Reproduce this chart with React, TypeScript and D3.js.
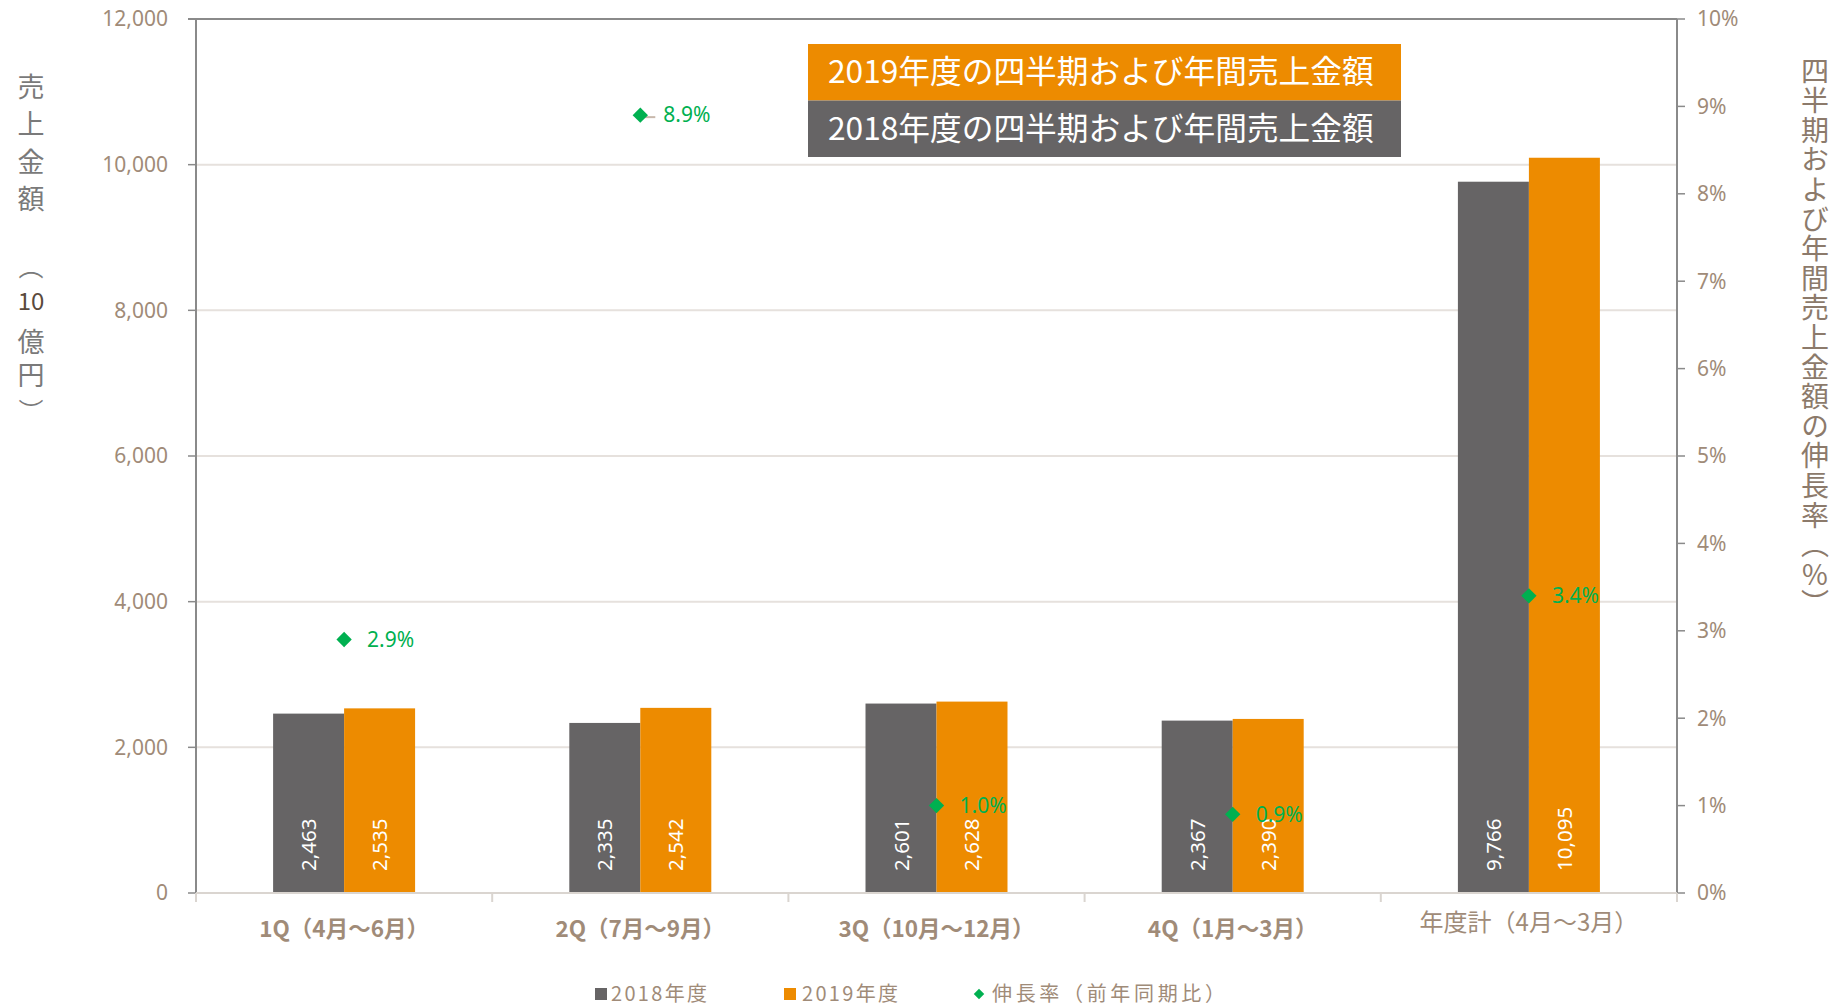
import React from 'react';
import * as d3 from 'd3';

const categories = ['1Q（4月～6月）', '2Q（7月～9月）', '3Q（10月～12月）', '4Q（1月～3月）', '年度計（4月～3月）'];
const seriesNames = ['2018年度', '2019年度'];
const sales2018 = [2463, 2335, 2601, 2367, 9766];
const sales2019 = [2535, 2542, 2628, 2390, 10095];
const growth = [2.9, 8.9, 1.0, 0.9, 3.4];
const leftTicks = [0, 2000, 4000, 6000, 8000, 10000, 12000];
const rightTicks = [0, 1, 2, 3, 4, 5, 6, 7, 8, 9, 10];
const leftTitle = ['売上金額', '︵', '10', '億円', '︶'];
const rightTitle = '四半期および年間売上金額の伸長率（%）';
const legendBoxes = ['2019年度の四半期および年間売上金額', '2018年度の四半期および年間売上金額'];
const legendItems = ['2018年度', '2019年度', '伸長率（前年同期比）'];

const W = 1848, H = 1008;
const X0 = 196, X1 = 1677, Y0 = 893, Y1 = 19;
const C_DARK = '#666465';
const C_ORANGE = '#ED8B00';
const C_GREEN = '#00B050';
const C_TICK = '#A08B78';
const FONT = '"Noto Sans", "Noto Sans CJK JP", sans-serif';
const CJK = '"Noto Sans CJK JP", sans-serif';

export default function App() {
  const x = d3.scaleBand<string>().domain(categories).range([X0, X1]).paddingInner(0).paddingOuter(0);
  const xs = d3.scaleBand<string>().domain(seriesNames).range([0, x.bandwidth()]).paddingInner(0).paddingOuter(1.086);
  const yL = d3.scaleLinear().domain([0, 12000]).range([Y0, Y1]);
  const yR = d3.scaleLinear().domain([0, 10]).range([Y0, Y1]);
  const fmt = d3.format(',');
  const series = [sales2018, sales2019];
  const colors = [C_DARK, C_ORANGE];
  const vert: React.CSSProperties = { writingMode: 'vertical-rl', textOrientation: 'upright' } as any;

  return (
    <svg width={W} height={H} style={{ position: 'absolute', left: 0, top: 0, background: '#fff' }}>
      {/* gridlines */}
      {leftTicks.filter(t => t > 0 && t < 12000).map(t => (
        <line key={t} x1={X0} x2={X1} y1={yL(t)} y2={yL(t)} stroke="#E6E1DD" strokeWidth={2} />
      ))}
      {/* top border */}
      <line x1={X0 - 8} x2={X1} y1={Y1} y2={Y1} stroke="#8A8A8A" strokeWidth={2} />
      {/* left axis */}
      <line x1={X0} x2={X0} y1={Y1} y2={Y0} stroke="#8A8A8A" strokeWidth={2} />
      {leftTicks.map(t => (
        <g key={t}>
          <line x1={X0 - 8} x2={X0} y1={yL(t)} y2={yL(t)} stroke="#8A8A8A" strokeWidth={1.5} />
          <text x={X0 - 28} y={yL(t)} dy="0.35em" textAnchor="end" fontSize={21} fill={C_TICK} fontFamily={FONT}>{fmt(t)}</text>
        </g>
      ))}
      {/* right axis */}
      <line x1={X1} x2={X1} y1={Y1} y2={Y0} stroke="#8A8A8A" strokeWidth={2} />
      {rightTicks.map(t => (
        <g key={t}>
          <line x1={X1} x2={X1 + 8} y1={yR(t)} y2={yR(t)} stroke="#8A8A8A" strokeWidth={1.5} />
          <text x={X1 + 20} y={yR(t)} dy="0.35em" textAnchor="start" fontSize={21} fill={C_TICK} fontFamily={FONT}>{t}%</text>
        </g>
      ))}
      {/* bars */}
      {categories.map((c, i) => (
        <g key={c} transform={`translate(${x(c)},0)`}>
          {series.map((s, j) => {
            const bx = xs(seriesNames[j])!;
            const bw = xs.bandwidth();
            return (
              <g key={j}>
                <rect x={bx} y={yL(s[i])} width={bw} height={Y0 - yL(s[i])} fill={colors[j]} />
                <text transform={`translate(${bx + bw / 2 + 7.5},${Y0 - 22}) rotate(-90)`} fontSize={20.5} fill="#fff" fontFamily={FONT}>{fmt(s[i])}</text>
              </g>
            );
          })}
        </g>
      ))}
      {/* bottom axis */}
      <line x1={X0} x2={X1} y1={Y0} y2={Y0} stroke="#DAD5D0" strokeWidth={2} />
      {[...categories.map(c => x(c)!), X1].map((v, i) => (
        <line key={i} x1={v} x2={v} y1={Y0} y2={Y0 + 9} stroke="#DAD5D0" strokeWidth={2} />
      ))}
      {categories.map((c, i) => (
        <text key={c} x={x(c)! + x.bandwidth() / 2} y={i === 4 ? 923 : 929} dy="0.35em" textAnchor="middle"
          fontSize={i === 4 ? 24 : 22.5} fontWeight={i === 4 ? 400 : 700} fill={C_TICK} fontFamily={CJK}>{c}</text>
      ))}
      {/* growth markers */}
      {categories.map((c, i) => {
        const cx = x(c)! + x.bandwidth() / 2;
        const cy = yR(growth[i]);
        return (
          <g key={c}>
            {i === 1 && <line x1={cx + 4} x2={cx + 15} y1={cy + 2} y2={cy + 2} stroke="#C8B8AC" strokeWidth={2} />}
            <path d={d3.symbol(d3.symbolDiamond2, 150)()!} transform={`translate(${cx},${cy})`} fill={C_GREEN} />
            <text x={cx + 23} y={cy} dy="0.35em" fontSize={21} fill={C_GREEN} fontFamily={FONT}>{growth[i].toFixed(1)}%</text>
          </g>
        );
      })}
      {/* title boxes */}
      {legendBoxes.map((t, i) => (
        <g key={t}>
          <rect x={808} y={44 + i * 56.5} width={593} height={56.5} fill={i === 0 ? C_ORANGE : C_DARK} />
          <text x={828} y={44 + i * 56.5 + 28} dy="0.35em" fontSize={31.7} fill="#fff" fontFamily={CJK}>{t}</text>
        </g>
      ))}
      {/* left axis title */}
      <text x={31} y={73} fontSize={27} letterSpacing={10.5} fill="#7A7A7A" fontFamily={CJK} style={vert}>{leftTitle[0]}</text>
      <text x={31} y={267} dy="0.35em" textAnchor="middle" fontSize={25} fill="#7A7A7A" fontFamily={CJK}>{leftTitle[1]}</text>
      <text x={31} y={302} dy="0.35em" textAnchor="middle" fontSize={24} fill="#5A4A3C" fontFamily={CJK}>{leftTitle[2]}</text>
      <text x={31} y={328} fontSize={27} letterSpacing={6} fill="#7A7A7A" fontFamily={CJK} style={vert}>{leftTitle[3]}</text>
      <text x={31} y={412} dy="0.35em" textAnchor="middle" fontSize={25} fill="#7A7A7A" fontFamily={CJK}>{leftTitle[4]}</text>
      {/* right axis title */}
      <text x={1815} y={57} fontSize={28} letterSpacing={1.6} fill="#8C7A6B" fontFamily={CJK} style={vert}>{rightTitle}</text>
      {/* bottom legend */}
      <rect x={595} y={988} width={12} height={12} fill={C_DARK} />
      <text x={611} y={994} dy="0.35em" fontSize={20} textLength={96} fill={C_TICK} fontFamily={CJK}>{legendItems[0]}</text>
      <rect x={784} y={988} width={12} height={12} fill={C_ORANGE} />
      <text x={802} y={994} dy="0.35em" fontSize={20} textLength={96} fill={C_TICK} fontFamily={CJK}>{legendItems[1]}</text>
      <path d={d3.symbol(d3.symbolDiamond2, 70)()!} transform={`translate(979,994)`} fill={C_GREEN} />
      <text x={992} y={994} dy="0.35em" fontSize={20} textLength={233} fill={C_TICK} fontFamily={CJK}>{legendItems[2]}</text>
    </svg>
  );
}
